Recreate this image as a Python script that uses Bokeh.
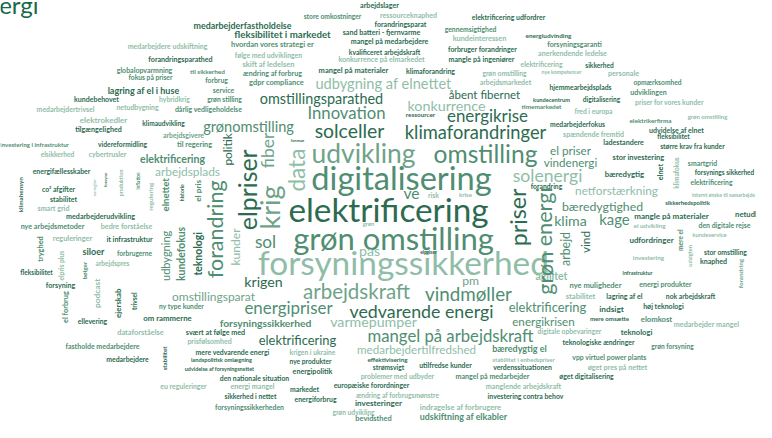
import math
from bokeh.plotting import figure
from bokeh.models import ColumnDataSource, Range1d
from bokeh.core.properties import value
from bokeh.embed import file_html
from bokeh.resources import INLINE

# ---- data: the words of the cloud (Danish survey answers) ----
words = [
    "medarbejderfastholdelse", "fleksibilitet i markedet", "hvordan vores strategi er", "følge med udviklingen",
    "skift af ledelsen", "ændring af forbrug", "gdpr compliance", "medarbejdere udskiftning",
    "forandringsparathed", "globalopvarmning", "til sikkerhed", "fokus på priser", "forbrug",
    "lagring af el i huse", "service", "kundebehovet", "hybridkrig", "grøn stilling", "medarbejdertrivsel",
    "netudbygning", "dårlig vedligeholdelse", "elektrokedler", "klimaudvikling", "grønomstilling",
    "tilgængelighed", "arbejdsgivere",
    "arbejdslager", "store omkostninger", "ressourceknaphed", "elektrificering udfordrer", "forandringsparat",
    "sand batteri - fjernvarme", "gennemsigtighed", "kundeinteressen", "energiudvinding",
    "mangel på medarbejdere", "forsyningsgaranti", "forbruger forandringer", "kvalificeret arbejdskraft",
    "anerkendende ledelse", "mangle på ingeniører", "konkurrence på elmarkedet", "elektrificering",
    "sikkerhed", "mangel på materialer", "klimaforandring", "grøn omstilling", "nye kompetencer",
    "personale", "udbygning af elnettet", "arbejdsmarkedet", "opmærksomhed", "omstillingsparathed",
    "åbent fibernet", "hjemmearbejdsplads", "udviklingen", "konkurrence", "kundecentrum",
    "digitalisering", "priser for vores kunder", "timemarkedet", "Innovation", "ressourcer",
    "energikrise", "fred i europa", "solceller", "klimaforandringer", "medarbejderfokus",
    "elektrikerfirma", "grøn omstilling", "udvidelse af elnet", "fleksibilitet", "spændende fremtid",
    "investering i infrastruktur", "videreformidling", "til regering", "elektrificering", "elsikkerhed",
    "cybertrusler", "arbejdsplads", "energifællesskaber", "co² afgifter", "stabilitet", "smart grid",
    "medarbejderudvikling", "nye arbejdsmetoder", "bedre forståelse", "reguleringer", "it infrastruktur",
    "siloer", "forbrugerne", "arbejdspres", "fleksibilitet",
    "udvikling", "omstilling", "digitalisering", "elektrificering", "grøn omstilling",
    "forsyningssikkerhed", "sol", "ve", "pas", "elpriser", "pm", "krigen", "arbejdskraft", "vindmøller",
    "omstillingsparat", "energipriser", "vedvarende energi", "forsyningssikkerhed", "varmepumper",
    "mangel på arbejdskraft", "elektrificering", "medarbejdertilfredshed", "mere vedvarende energi",
    "krigen i ukraine", "landspolitisk omlægning", "nye produkter", "effektivisering",
    "stabilitet i enhedspriser", "udvidelse af forsyningsnettet", "strømsvigt", "utilfredse kunder",
    "verdenssituationen", "energipolitik", "den nationale situation", "problemer med udbyder",
    "mangel på medarbejder", "energi mangel", "markedet", "europæiske forordninger",
    "manglende arbejdskraft", "sikkerhed i nettet", "energiforbrug", "ændring af forbrugsmønstre",
    "investering contra behov", "investeringer", "forsyningssikkerheden", "grøn udvikling",
    "indragelse af forbrugere", "udskiftning af elkabler", "bevidsthed",
    "nye muligheder", "energi produkter", "stabilitet", "lagring af el", "nok arbejdskraft",
    "elektrificering", "indsigt", "høj teknologi", "energikrisen", "mere omsætte", "elomkost",
    "medarbejder mangel", "digitale opbevaringer", "teknologi", "teknologiske ændringer",
    "grøn forsyning", "bæredygtig el", "vpp virtuel power plants", "øget pres på nettet",
    "øget digitalisering",
    "forsyning", "ellevering", "om rammerne", "ny type kunder", "dataforståelse", "svært at følge med",
    "prisfølsomhed", "fastholde medarbejdere", "medarbejdere", "eu reguleringer",
    "el priser", "ladestandere", "større krav fra kunder", "vindenergi", "stor investering", "smartgrid",
    "bæredygtig", "forsynings sikkerhed", "solenergi", "elektrificering", "forandring", "netforstærkning",
    "internt ønske til samarbejde", "sikkerhedspolitik", "bæredygtighed", "klima", "kage",
    "mangle på materialer", "netudbygning", "el udvikling", "den digitale rejse", "kundeservice",
    "udfordringer", "stor omstilling", "investering", "knaphed", "agilitet", "infrastruktur",
    # vertical words
    "politik", "klimahensyn", "forsyne", "eu regler", "produktion", "inflation", "regulering", "elnettet",
    "historie", "el pris", "forandring", "elpriser", "tryghed", "udbygning", "kundefokus", "teknologi",
    "kunder", "fiber", "krig", "data", "priser", "grøn energi", "arbejd", "vind", "elnet", "klimafokus",
    "mere el", "udsigten", "forandring", "el forbrug", "podcast", "ejerskab", "trivsel", "stabilitet",
    "elpris plus", "bølger",
    # tiny words
    "formue", "krise", "risk", "grøn",
]

# ---- layout of the cloud: centre x, centre y (page px), extent of the word, rotated?, tone ----
placement = [
    (250, 33, 100, 0, "d"), (290, 42, 96, 0, "d"), (280, 53, 84, 0, "m"), (276, 63, 68, 0, "l"),
    (276, 73, 52, 0, "l"), (280, 82, 60, 0, "m"), (284, 91, 56, 0, "m"), (175, 54, 81, 0, "l"),
    (188, 68, 66, 0, "d"), (152, 78, 57, 0, "m"), (215, 80, 35, 0, "m"), (158, 86, 44, 0, "m"), (224, 89, 23, 0, "m"),
    (151, 99, 71, 0, "d"), (231, 99, 22, 0, "m"), (104, 108, 46, 0, "d"), (182, 108, 31, 0, "l"), (232, 108, 35, 0, "m"), (73, 118, 59, 0, "l"),
    (145, 116, 43, 0, "l"), (216, 118, 68, 0, "m"), (111, 129, 48, 0, "l"), (171, 132, 43, 0, "d"), (256, 136, 90, 0, "m"),
    (106, 139, 47, 0, "d"), (191, 144, 42, 0, "x"),
    (387, 13, 40, 0, "d"), (340, 24, 59, 0, "m"), (416, 23, 58, 0, "l"), (516, 25, 74, 0, "d"), (408, 32, 53, 0, "d"),
    (389, 40, 78, 0, "d"), (478, 37, 53, 0, "m"), (487, 47, 55, 0, "l"), (556, 44, 47, 0, "d"),
    (397, 50, 79, 0, "d"), (582, 53, 55, 0, "m"), (490, 57, 70, 0, "d"), (392, 60, 72, 0, "d"),
    (580, 62, 70, 0, "l"), (489, 68, 67, 0, "d"), (389, 68, 88, 0, "l"), (549, 72, 42, 0, "l"),
    (607, 73, 29, 0, "d"), (361, 79, 71, 0, "d"), (438, 79, 50, 0, "d"), (512, 82, 45, 0, "l"), (569, 81, 41, 0, "l"),
    (631, 82, 32, 0, "l"), (391, 92, 133, 0, "l"), (513, 91, 53, 0, "l"), (665, 91, 50, 0, "m"), (329, 107, 122, 0, "d"),
    (492, 103, 70, 0, "d"), (588, 96, 64, 0, "d"), (656, 101, 37, 0, "m"), (454, 114, 78, 0, "l"), (559, 108, 38, 0, "d"),
    (609, 108, 38, 0, "d"), (677, 111, 69, 0, "l"), (549, 116, 41, 0, "m"), (354, 122, 78, 0, "m"), (428, 124, 30, 0, "d"),
    (495, 125, 80, 0, "d"), (601, 120, 38, 0, "l"), (357, 140, 69, 0, "d"), (483, 141, 141, 0, "d"), (585, 133, 56, 0, "d"),
    (658, 130, 43, 0, "m"), (715, 126, 40, 0, "l"), (684, 139, 55, 0, "d"), (681, 146, 32, 0, "d"), (601, 143, 62, 0, "l"),
    (42, 154, 69, 0, "m"), (130, 154, 50, 0, "d"), (202, 154, 35, 0, "m"), (180, 169, 65, 0, "m"), (65, 164, 34, 0, "l"),
    (115, 164, 38, 0, "l"), (195, 181, 65, 0, "l"), (69, 181, 59, 0, "d"), (66, 199, 33, 0, "d"), (71, 209, 27, 0, "d"), (61, 219, 32, 0, "l"),
    (108, 227, 70, 0, "d"), (60, 237, 65, 0, "m"), (134, 237, 52, 0, "l"), (80, 249, 40, 0, "l"), (137, 250, 46, 0, "d"),
    (101, 263, 22, 0, "d"), (142, 264, 36, 0, "m"), (120, 274, 35, 0, "l"), (44, 284, 32, 0, "d"),
    (371, 163, 103, 0, "x"), (493, 163, 103, 0, "m"), (409, 188, 178, 0, "m"), (396, 219, 197, 0, "d"), (401, 249, 197, 0, "m"),
    (411, 273, 287, 0, "l"), (273, 252, 21, 0, "m"), (419, 203, 16, 0, "m"), (377, 262, 21, 0, "l"), (436, 263, 17, 0, "d"), (478, 292, 17, 0, "x"), (271, 293, 38, 0, "d"), (364, 303, 106, 0, "x"), (476, 305, 87, 0, "m"),
    (221, 308, 82, 0, "x"), (296, 319, 87, 0, "m"), (429, 323, 142, 0, "d"), (273, 335, 93, 0, "m"), (381, 334, 87, 0, "l"),
    (458, 348, 163, 0, "m"), (305, 352, 76, 0, "d"), (424, 362, 118, 0, "l"), (240, 364, 76, 0, "d"),
    (320, 364, 46, 0, "l"), (229, 372, 62, 0, "d"), (318, 374, 43, 0, "d"), (395, 372, 40, 0, "d"),
    (531, 372, 63, 0, "l"), (227, 382, 70, 0, "d"), (396, 380, 32, 0, "d"), (453, 378, 53, 0, "d"),
    (530, 380, 60, 0, "d"), (320, 384, 40, 0, "d"), (262, 391, 70, 0, "d"), (405, 389, 76, 0, "l"),
    (500, 389, 76, 0, "m"), (260, 399, 45, 0, "l"), (312, 402, 30, 0, "d"), (379, 398, 77, 0, "d"),
    (531, 399, 77, 0, "l"), (258, 409, 52, 0, "d"), (323, 412, 43, 0, "d"), (405, 408, 85, 0, "l"),
    (533, 409, 77, 0, "d"), (386, 416, 48, 0, "d"), (257, 420, 70, 0, "m"), (361, 425, 43, 0, "l"),
    (468, 420, 83, 0, "l"), (471, 430, 88, 0, "m"), (381, 432, 37, 0, "m"),
    (603, 297, 53, 0, "m"), (673, 296, 53, 0, "m"), (588, 308, 30, 0, "l"), (632, 308, 36, 0, "d"), (698, 308, 50, 0, "d"),
    (555, 319, 76, 0, "m"), (619, 321, 25, 0, "d"), (671, 318, 41, 0, "d"), (551, 333, 62, 0, "m"), (617, 331, 40, 0, "d"), (664, 331, 32, 0, "m"),
    (714, 337, 67, 0, "l"), (577, 343, 65, 0, "l"), (644, 344, 32, 0, "d"), (606, 354, 73, 0, "d"),
    (680, 358, 43, 0, "m"), (527, 361, 55, 0, "m"), (617, 370, 75, 0, "m"), (625, 380, 60, 0, "l"),
    (594, 389, 55, 0, "d"),
    (68, 297, 30, 0, "d"), (100, 333, 30, 0, "d"), (175, 330, 50, 0, "d"), (189, 318, 45, 0, "m"), (148, 345, 47, 0, "l"), (223, 345, 60, 0, "d"),
    (217, 353, 45, 0, "l"), (110, 358, 75, 0, "m"), (135, 372, 44, 0, "d"), (191, 399, 47, 0, "l"),
    (578, 160, 40, 0, "m"), (631, 152, 42, 0, "d"), (700, 156, 65, 0, "d"), (578, 172, 53, 0, "m"), (646, 167, 52, 0, "d"), (710, 173, 30, 0, "m"),
    (632, 184, 40, 0, "d"), (732, 182, 60, 0, "d"), (555, 185, 69, 0, "l"), (719, 192, 42, 0, "m"), (554, 196, 32, 0, "d"), (624, 201, 82, 0, "l"),
    (731, 205, 64, 0, "l"), (695, 213, 45, 0, "d"), (610, 217, 80, 0, "m"), (578, 231, 33, 0, "m"), (622, 230, 30, 0, "m"),
    (679, 227, 76, 0, "d"), (766, 225, 48, 0, "d"), (657, 236, 32, 0, "l"), (732, 236, 52, 0, "m"), (717, 245, 35, 0, "l"),
    (659, 251, 45, 0, "d"), (733, 263, 43, 0, "d"), (656, 269, 32, 0, "l"), (721, 273, 28, 0, "d"), (559, 287, 32, 0, "l"), (645, 284, 30, 0, "d"),
    # vertical
    (235, 159, 32, 1, "d"), (28, 205, 36, 1, "d"), (113, 190, 15, 1, "d"), (102, 198, 17, 1, "l"), (128, 193, 27, 1, "l"),
    (145, 191, 17, 1, "m"), (158, 207, 29, 1, "l"), (173, 205, 34, 1, "m"),
    (189, 203, 17, 1, "d"), (205, 201, 22, 1, "m"), (222, 240, 97, 1, "m"), (255, 200, 80, 1, "d"), (48, 260, 26, 1, "m"),
    (173, 267, 50, 1, "m"), (188, 265, 55, 1, "m"), (205, 265, 44, 1, "d"),
    (243, 258, 37, 1, "l"), (275, 160, 35, 1, "x"), (277, 218, 43, 1, "x"), (304, 180, 43, 1, "l"), (525, 228, 57, 1, "d"),
    (552, 252, 105, 1, "m"), (573, 260, 34, 1, "m"), (593, 253, 22, 1, "d"), (668, 182, 17, 1, "d"), (684, 183, 32, 1, "l"),
    (687, 251, 22, 1, "m"), (697, 267, 22, 1, "l"), (748, 285, 30, 1, "x"), (73, 319, 32, 1, "m"), (104, 305, 30, 1, "l"),
    (125, 315, 30, 1, "d"), (142, 313, 18, 1, "d"), (172, 371, 24, 1, "d"),
    (68, 277, 30, 1, "l"), (92, 282, 18, 1, "m"),
    # tiny
    (305, 150, 14, 0, "d"), (473, 205, 13, 0, "l"), (441, 205, 11, 0, "l"), (376, 234, 12, 0, "l"),
]

title_text = "energi"

assert len(words) == len(placement), (len(words), len(placement))

TONES = {"d": "#2c6b50", "m": "#4f8e71", "x": "#6fa389", "l": "#8fbda8"}

# approximate Lato glyph advance widths (em)
CW = {"a": .50, "b": .56, "c": .46, "d": .56, "e": .52, "f": .31, "g": .50, "h": .56, "i": .24,
      "j": .24, "k": .50, "l": .24, "m": .84, "n": .56, "o": .56, "p": .56, "q": .56, "r": .36,
      "s": .42, "t": .34, "u": .56, "v": .50, "w": .76, "x": .49, "y": .49, "z": .45, " ": .19,
      "ø": .56, "å": .50, "æ": .82, "²": .30, "-": .33, "I": .28}


def em_width(w, bold):
    s = sum(CW.get(ch, .52) for ch in w)
    return s * (1.05 if bold else 1.0)


xs, ys, sizes, colors, angles, styles = [], [], [], [], [], []
for w, (cx, cy, span, rot, tone) in zip(words, placement):
    fs = span / em_width(w, False)
    bold = fs < 11
    if bold:
        fs = span / em_width(w, True)
    xs.append(cx)
    ys.append(cy)
    sizes.append(f"{fs:.1f}px")
    colors.append(TONES[tone])
    angles.append(math.pi / 2 if rot else 0.0)
    styles.append("bold" if bold else "normal")

src = ColumnDataSource(dict(x=xs, y=ys, text=words, size=sizes, color=colors,
                            angle=angles, style=styles))

p = figure(width=756, height=422, output_backend="svg", toolbar_location=None,
           x_range=Range1d(8, 764), y_range=Range1d(436, 8), min_border=0,
           x_axis_type=None, y_axis_type=None)
p.grid.visible = False
p.outline_line_color = None
p.background_fill_color = "white"

p.text(x="x", y="y", text="text", source=src, text_font=value("Lato"),
       text_font_size="size", text_color="color", angle="angle",
       text_font_style="style", text_align="center", text_baseline="middle")

# page heading, mostly scrolled out of view in the reference
p.text(x=[46], y=[12], text=[title_text], text_font=value("Lato"), text_font_size="24px",
       text_color="#17694a", text_align="right", text_baseline="alphabetic")

open("out.html", "w").write(file_html(p, INLINE))
